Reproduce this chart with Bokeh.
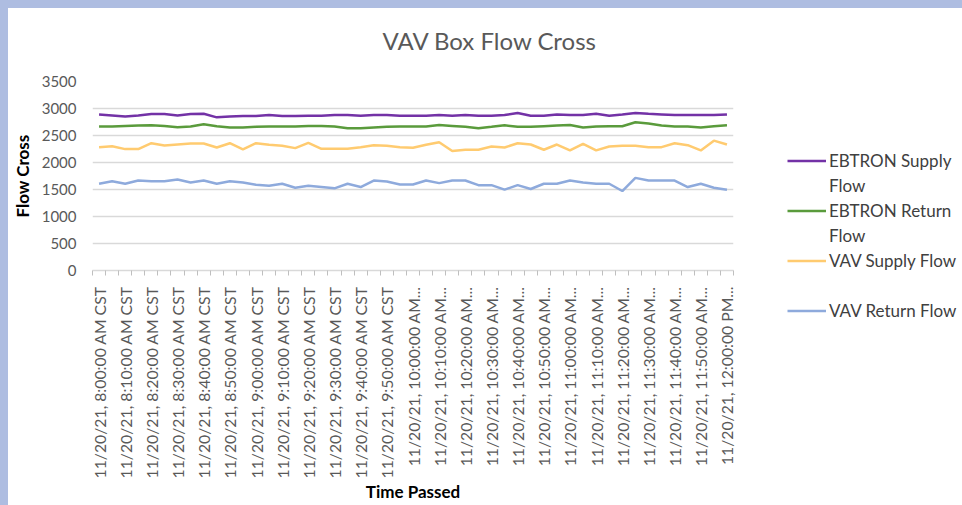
import math
from bokeh.plotting import figure
from bokeh.layouts import row
from bokeh.models import (Range1d, FixedTicker, Legend, LegendItem, ColumnDataSource,
                          GlobalInlineStyleSheet)
from bokeh.embed import file_html
from bokeh.resources import INLINE

# ---- data -------------------------------------------------------------
# sample index: one reading every 5 minutes, 8:00 AM .. 12:00 PM (49 readings)
sample_idx = list(range(49))

# x-axis labels (every other reading is labelled, as in the original)
label_idx = list(range(0, 49, 2))
time_labels = [
    "11/20/21, 8:00:00 AM CST", "11/20/21, 8:10:00 AM CST", "11/20/21, 8:20:00 AM CST",
    "11/20/21, 8:30:00 AM CST", "11/20/21, 8:40:00 AM CST", "11/20/21, 8:50:00 AM CST",
    "11/20/21, 9:00:00 AM CST", "11/20/21, 9:10:00 AM CST", "11/20/21, 9:20:00 AM CST",
    "11/20/21, 9:30:00 AM CST", "11/20/21, 9:40:00 AM CST", "11/20/21, 9:50:00 AM CST",
    "11/20/21, 10:00:00 AM...", "11/20/21, 10:10:00 AM...", "11/20/21, 10:20:00 AM...",
    "11/20/21, 10:30:00 AM...", "11/20/21, 10:40:00 AM...", "11/20/21, 10:50:00 AM...",
    "11/20/21, 11:00:00 AM...", "11/20/21, 11:10:00 AM...", "11/20/21, 11:20:00 AM...",
    "11/20/21, 11:30:00 AM...", "11/20/21, 11:40:00 AM...", "11/20/21, 11:50:00 AM...",
    "11/20/21, 12:00:00 PM...",
]

ebtron_supply = [2890, 2872, 2854, 2872, 2896, 2896, 2872, 2896, 2902, 2836, 2854, 2860, 2860,
                 2878, 2860, 2860, 2866, 2866, 2878, 2878, 2866, 2878, 2878, 2866, 2866, 2866,
                 2878, 2866, 2878, 2866, 2866, 2878, 2915, 2866, 2866, 2890, 2878, 2878, 2902,
                 2866, 2890, 2915, 2902, 2890, 2878, 2878, 2878, 2878, 2890]
ebtron_return = [2666, 2666, 2678, 2684, 2690, 2678, 2654, 2666, 2708, 2672, 2648, 2648, 2660,
                 2666, 2666, 2666, 2678, 2678, 2666, 2636, 2636, 2648, 2660, 2666, 2666, 2666,
                 2696, 2678, 2660, 2636, 2660, 2690, 2660, 2660, 2672, 2684, 2696, 2648, 2666,
                 2672, 2672, 2745, 2721, 2684, 2666, 2666, 2648, 2672, 2690]
vav_supply = [2284, 2302, 2248, 2248, 2357, 2315, 2333, 2351, 2351, 2278, 2357, 2242, 2357,
              2327, 2309, 2266, 2363, 2254, 2254, 2254, 2284, 2321, 2309, 2284, 2272, 2327,
              2375, 2212, 2236, 2236, 2296, 2278, 2357, 2333, 2236, 2333, 2224, 2345, 2224,
              2296, 2309, 2309, 2284, 2284, 2357, 2321, 2224, 2405, 2333]
vav_return = [1606, 1654, 1606, 1666, 1654, 1654, 1684, 1630, 1666, 1606, 1654, 1630, 1587,
              1569, 1606, 1533, 1569, 1545, 1521, 1606, 1545, 1666, 1648, 1593, 1593, 1666,
              1618, 1666, 1666, 1581, 1581, 1497, 1581, 1509, 1606, 1606, 1666, 1630, 1606,
              1606, 1472, 1715, 1666, 1666, 1666, 1545, 1606, 1533, 1497]

# legend text, wrapped onto lines as in the original legend
series_label_lines = [["EBTRON Supply", "Flow"], ["EBTRON Return", "Flow"],
                      ["VAV Supply Flow", " "], ["VAV Return Flow"]]
series_values = [ebtron_supply, ebtron_return, vav_supply, vav_return]
series_colors = ["#7332a6", "#5a9b3c", "#ffcb70", "#8eaadc"]

y_ticks = [0, 500, 1000, 1500, 2000, 2500, 3000, 3500]

# ---- main chart -------------------------------------------------------
FONT = "Lato"
p = figure(width=746, height=505,
           x_range=Range1d(-0.5, 48.5), y_range=Range1d(0, 3500),
           output_backend="svg", toolbar_location=None,
           min_border_left=84, min_border_right=21, min_border_top=81, min_border_bottom=235,
           background_fill_color="white", border_fill_color="white",
           title="VAV Box Flow Cross")
p.margin = (0, 0, 0, 8)
p.outline_line_color = None
# white page; light-blue band along the top and left edges of the screenshot
p.stylesheets = [GlobalInlineStyleSheet(css=(
    "html, body { background: #ffffff; } "
    "body::before { content: ''; position: fixed; left: 0; top: 0; width: 100%; height: 8px; "
    "background: #aebde1; z-index: 10000; } "
    "body::after { content: ''; position: fixed; left: 0; top: 0; width: 8px; height: 100%; "
    "background: #aebde1; z-index: 10000; }"))]

p.title.align = "left"
p.title.vertical_align = "top"
p.title.offset = 290
p.title.standoff = 50
p.title.text_font = FONT
p.title.text_font_size = "24px"
p.title.text_font_style = "normal"
p.title.text_color = "#595959"

p.xgrid.visible = False
p.ygrid.grid_line_color = "#d9d9d9"
p.ygrid.grid_line_width = 1.5

ya = p.yaxis[0]
ya.ticker = FixedTicker(ticks=y_ticks)
ya.axis_line_color = None
ya.major_tick_line_color = None
ya.minor_tick_line_color = None
ya.major_tick_out = 0
ya.major_label_standoff = 16
ya.major_label_text_font = FONT
ya.major_label_text_font_size = "15px"
ya.major_label_text_color = "#595959"
ya.axis_label = "Flow Cross"
ya.axis_label_text_font = FONT
ya.axis_label_text_font_size = "17px"
ya.axis_label_text_font_style = "bold"
ya.axis_label_text_color = "#000000"
ya.axis_label_standoff = 6

xa = p.xaxis[0]
xa.ticker = FixedTicker(ticks=label_idx, minor_ticks=[i - 0.5 for i in range(50)])
xa.major_label_overrides = {i: t for i, t in zip(label_idx, time_labels)}
xa.major_label_orientation = math.pi / 2
xa.axis_line_color = "#d9d9d9"
xa.axis_line_width = 1.5
xa.major_tick_line_color = None
xa.major_tick_out = 0
xa.major_tick_in = 0
xa.minor_tick_line_color = "#bfbfbf"
xa.minor_tick_out = 5
xa.minor_tick_in = 0
xa.major_label_standoff = 11
xa.major_label_text_font = FONT
xa.major_label_text_font_size = "15.75px"
xa.major_label_text_color = "#595959"
xa.axis_label = "Time Passed"
xa.axis_label_text_font = FONT
xa.axis_label_text_font_size = "17px"
xa.axis_label_text_font_style = "bold"
xa.axis_label_text_color = "#000000"
xa.axis_label_standoff = 0

for vals, col in zip(series_values, series_colors):
    src = ColumnDataSource(dict(x=sample_idx, y=vals))
    p.line("x", "y", source=src, line_color=col, line_width=2.5)

# ---- legend panel (right of the chart) -------------------------------
q = figure(width=208, height=505, x_range=Range1d(0, 1), y_range=Range1d(0, 1),
           x_axis_type=None, y_axis_type=None, output_backend="svg",
           toolbar_location=None, min_border=0,
           background_fill_color="white", border_fill_color="white")
q.margin = (0, 0, 0, 0)
q.outline_line_color = None

nan = float("nan")
items = []
for lines, col in zip(series_label_lines, series_colors):
    # legend swatch only (a single undefined point: nothing drawn in the plot area)
    swatch = q.line(x=[nan], y=[nan], line_color=col, line_width=2.5)
    items.append(LegendItem(label=lines[0], renderers=[swatch]))
    # continuation line of a wrapped legend label: no swatch drawn
    for extra in lines[1:]:
        ghost = q.line(x=[nan], y=[nan], line_color=col, line_alpha=0)
        items.append(LegendItem(label=extra, renderers=[ghost]))

legend = Legend(items=items, location=(33, -53),
                label_text_font=FONT, label_text_font_size="17px", label_text_color="#404040",
                glyph_width=39, glyph_height=25, label_height=25, label_standoff=3,
                spacing=0, padding=0, margin=0, border_line_color=None,
                background_fill_alpha=0)
q.add_layout(legend, "left")

layout = row(p, q)
open("out.html", "w").write(file_html(layout, INLINE))
